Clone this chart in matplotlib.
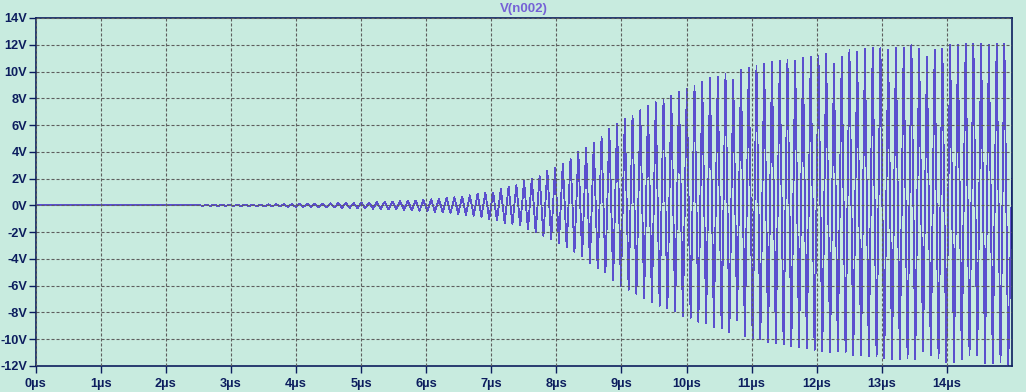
import matplotlib
matplotlib.use('Agg')
import matplotlib.pyplot as plt
import numpy as np

# LTspice transient: V(n002), oscillator start-up
trace_name = 'V(n002)'

# first ringing peak and spacing between peaks (us)
first_peak_us = 2.507
period_us = 0.119
end_us = 15.0
end_value = 2.0

# positive peak of every cycle (V), one row is roughly one us
v_high = [
    0.03, 0.03, 0.04, 0.04, 0.05, 0.05, 0.06, 0.06, 0.07, 0.08,
    0.08, 0.09, 0.10, 0.11, 0.12, 0.13, 0.14, 0.15, 0.16, 0.17,
    0.18, 0.20, 0.22, 0.24, 0.26, 0.28, 0.31, 0.34, 0.37, 0.41,
    0.45, 0.50, 0.55, 0.61, 0.67, 0.75, 0.85, 0.95, 0.97, 1.2,
    1.4, 1.5, 1.8, 2.0, 2.2, 2.6, 2.8, 3.1, 3.5, 4.0,
    4.3, 4.7, 5.1, 5.7, 6.1, 6.5, 6.7, 7.1, 7.4, 7.7,
    7.9, 8.2, 8.5, 8.7, 8.9, 9.2, 9.5, 9.6, 9.8, 9.4,
    10.1, 10.3, 10.4, 10.6, 10.7, 10.8, 10.9, 10.8, 11.0, 11.1,
    11.2, 11.3, 10.6, 11.1, 11.6, 11.5, 11.7, 11.8, 11.8, 11.6,
    11.8, 11.8, 12.0, 11.7, 11.1, 11.6, 11.7, 12.0, 12.0, 12.1,
    12.1, 12.1, 12.0, 12.1, 12.1,
]

# negative peak half a cycle later (V)
v_low = [
    -0.03, -0.03, -0.04, -0.04, -0.05, -0.05, -0.06, -0.07, -0.07, -0.08,
    -0.09, -0.10, -0.11, -0.12, -0.13, -0.14, -0.15, -0.16, -0.17, -0.18,
    -0.20, -0.22, -0.24, -0.26, -0.28, -0.30, -0.33, -0.36, -0.40, -0.44,
    -0.48, -0.53, -0.58, -0.64, -0.70, -0.77, -0.85, -1.0, -1.1, -1.3,
    -1.4, -1.5, -1.8, -2.0, -2.3, -2.5, -2.8, -3.1, -3.5, -3.8,
    -4.3, -4.7, -5.0, -5.6, -6.0, -6.3, -6.6, -6.9, -7.2, -7.5,
    -7.7, -7.9, -8.3, -8.4, -8.7, -8.8, -9.1, -9.2, -9.5, -8.6,
    -9.8, -10.0, -10.0, -10.2, -10.3, -10.4, -10.5, -10.6, -10.7, -10.8,
    -10.9, -11.0, -10.9, -11.0, -11.2, -11.2, -11.3, -11.3, -11.4, -11.5,
    -11.5, -11.4, -11.5, -10.9, -11.2, -11.4, -11.7, -11.7, -11.5, -11.2,
    -11.2, -11.8, -11.8, -11.7, -11.9,
]

x_ticks = list(range(0, 15))
x_labels = [f'{t}\u00b5s' for t in x_ticks]
y_ticks = list(range(-12, 15, 2))
y_labels = [f'{v}V' for v in y_ticks]

# colours of the LTspice window
bg = '#c8ebdf'
trace_col = '#5b4fce'
navy = '#0c1d5e'
grid_col = '#5e5e5e'
title_col = '#7561d6'

plt.rcParams['lines.scale_dashes'] = False
plt.rcParams['font.family'] = ['Liberation Sans', 'DejaVu Sans']

# zig-zag through the peaks: quiet start, then high/low per cycle
k = np.arange(len(v_high))
t_high = first_peak_us + k * period_us
t_low = t_high + period_us / 2
t = np.concatenate([[0.0, first_peak_us - period_us / 2],
                    np.column_stack([t_high, t_low]).ravel(), [end_us]])
v = np.concatenate([[0.0, 0.0],
                    np.column_stack([v_high, v_low]).ravel(), [end_value]])

fig = plt.figure(figsize=(10.26, 3.92), dpi=100, facecolor=bg)
ax = fig.add_axes([35.5 / 1026, 1 - 366 / 392, (1012 - 35.5) / 1026, (366 - 18) / 392])
ax.set_facecolor(bg)

ax.plot(t, v, color=trace_col, lw=0.6, antialiased=False, zorder=2)

ax.set_xlim(0, 15)
ax.set_ylim(-12, 14)
ax.set_xticks(x_ticks)
ax.set_xticklabels(x_labels)
ax.set_yticks(y_ticks)
ax.set_yticklabels(y_labels)

ax.set_axisbelow(False)
ax.grid(True, color=grid_col, lw=0.8, linestyle=(0, (2.2, 1.4)))

for s in ax.spines.values():
    s.set_color(navy)
    s.set_linewidth(1.2)

ax.tick_params(axis='y', direction='out', length=5, width=1.0, color=navy, pad=1,
               labelsize=9.2, labelcolor=navy)
ax.tick_params(axis='x', direction='out', length=5, width=1.0, color=navy, pad=4,
               labelsize=9.2, labelcolor=navy)
for lbl in ax.get_xticklabels() + ax.get_yticklabels():
    lbl.set_fontweight('bold')

ax.set_title(trace_name, color=title_col, fontsize=9.5, fontweight='bold', pad=4)

fig.savefig('out.png', dpi=100, facecolor=bg)
